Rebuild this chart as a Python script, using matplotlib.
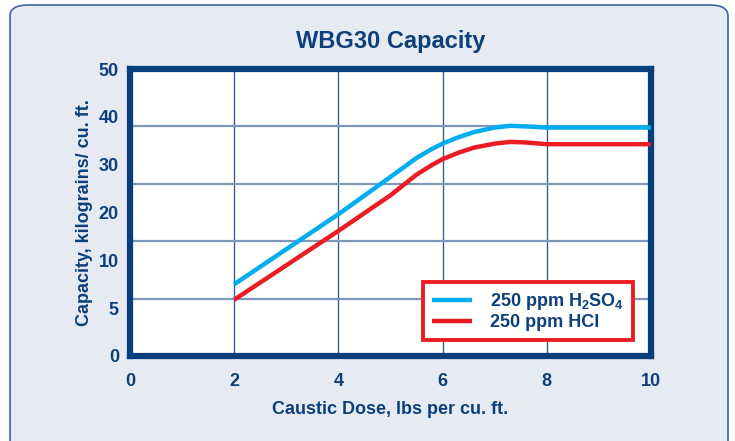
#!/usr/bin/env python3

import matplotlib
matplotlib.use('Agg')
import matplotlib.pyplot as plt
from matplotlib.patches import FancyBboxPatch
import numpy as np

# Data
dose = [2, 3, 4, 5, 5.5, 5.8, 6, 6.3, 6.6, 7, 7.3, 7.6, 8, 9, 10]
cap_h2so4 = [12.5, 18.6, 24.7, 31.2, 34.5, 36.1, 37.0, 38.1, 39.0, 39.8, 40.1, 40.0, 39.8, 39.8, 39.8]
cap_hcl = [9.8, 15.8, 21.8, 28.0, 31.6, 33.3, 34.3, 35.4, 36.3, 37.0, 37.3, 37.2, 36.9, 36.9, 36.9]

x_ticks = [0, 2, 4, 6, 8, 10]
y_tick_labels = ['0', '5', '10', '20', '30', '40', '50']
grid_levels = [10, 20, 30, 40]

NAVY = '#073f7c'
TEXT = '#0d3f7a'
BLUE = '#00adee'
RED = '#ec1c24'
GRID = '#7f98ba'

plt.rcParams['font.family'] = ['Liberation Sans', 'DejaVu Sans']
plt.rcParams['font.weight'] = 'bold'
plt.rcParams['axes.titleweight'] = 'bold'
plt.rcParams['axes.labelweight'] = 'bold'
plt.rcParams['mathtext.fontset'] = 'custom'
plt.rcParams['mathtext.rm'] = 'Liberation Sans:bold'
plt.rcParams['mathtext.default'] = 'rm'


def main():
    fig = plt.figure(figsize=(7.35, 4.41), dpi=100)
    fig.patch.set_facecolor('white')

    # rounded light panel behind everything
    panel = FancyBboxPatch((10 / 735, -0.05), 718 / 735, 1.05 - 5 / 441,
                           boxstyle='round,pad=0,rounding_size=0.025',
                           transform=fig.transFigure, facecolor='#e6ebf3',
                           edgecolor='#3a66a0', linewidth=1.2, zorder=-10)
    fig.patches.append(panel)

    ax = fig.add_axes([130 / 735, 85 / 441, 521 / 735, 287 / 441])
    ax.set_facecolor('white')

    ax.plot(dose, cap_h2so4, color=BLUE, lw=3.2, solid_joinstyle='round',
            solid_capstyle='butt', label='250 ppm H$_2$SO$_4$', zorder=3)
    ax.plot(dose, cap_hcl, color=RED, lw=3.2, solid_joinstyle='round',
            solid_capstyle='butt', label='250 ppm HCI', zorder=3)

    ax.set_xlim(0, 10)
    ax.set_ylim(0, 50)

    for x in x_ticks[1:-1]:
        ax.axvline(x, color='#3d5f8c', lw=1.0, zorder=1)
    for y in grid_levels:
        ax.axhline(y, color=GRID, lw=1.6, zorder=1)

    ax.set_xticks(x_ticks)
    ax.set_xticklabels([str(v) for v in x_ticks])
    ax.set_yticks(np.linspace(0, 50, len(y_tick_labels)))
    ax.set_yticklabels(y_tick_labels)
    ax.tick_params(length=0, labelsize=13, labelcolor=TEXT, pad=8)
    ax.tick_params(axis='x', pad=12)

    for s in ax.spines.values():
        s.set_color(NAVY)
        s.set_linewidth(4.5)

    ax.set_xlabel('Caustic Dose, lbs per cu. ft.', fontsize=13, color=TEXT,
                  labelpad=8)
    ax.set_ylabel('Capacity, kilograins/ cu. ft.', fontsize=13, color=TEXT,
                  labelpad=4)
    ax.set_title('WBG30 Capacity', fontsize=17, color=TEXT, pad=15)

    leg = ax.legend(loc='lower right', bbox_to_anchor=(0.965, 0.056),
                    borderaxespad=0, fontsize=13, frameon=True, fancybox=False,
                    handlelength=2.2, handletextpad=1.0, labelspacing=0.1,
                    borderpad=0.5, labelcolor=TEXT)
    leg.get_frame().set_edgecolor(RED)
    leg.get_frame().set_linewidth(2.8)
    leg.get_frame().set_facecolor('white')
    leg.get_frame().set_alpha(1)
    leg.set_zorder(5)

    fig.savefig('out.png', dpi=100)
    plt.close(fig)


if __name__ == '__main__':
    main()
